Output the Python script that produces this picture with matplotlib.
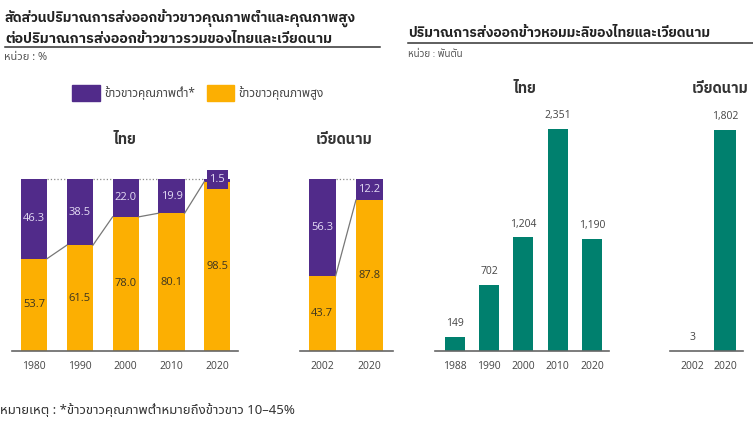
import matplotlib
matplotlib.use("Agg")
import matplotlib.pyplot as plt
from matplotlib.patches import Rectangle

# ---------- data ----------
th_years = ["1980", "1990", "2000", "2010", "2020"]
th_high = [53.7, 61.5, 78.0, 80.1, 98.5]
th_low = [46.3, 38.5, 22.0, 19.9, 1.5]

vn_years = ["2002", "2020"]
vn_high = [43.7, 87.8]
vn_low = [56.3, 12.2]

th_hom_years = ["1988", "1990", "2000", "2010", "2020"]
th_hom = [149, 702, 1204, 2351, 1190]

vn_hom_years = ["2002", "2020"]
vn_hom = [3, 1802]

# ---------- style ----------
THAI = ["Noto Sans Thai", "Open Sans", "DejaVu Sans"]
THAI_B = ["IBM Plex Sans Thai", "Noto Sans Thai", "DejaVu Sans"]
NUM = ["Open Sans", "DejaVu Sans"]
PURPLE = "#512b8a"
ORANGE = "#fcaf02"
TEAL = "#00806e"

W, H = 753, 421
fig = plt.figure(figsize=(W / 100, H / 100), dpi=100)


def px_axes(x0, x1, y_top, y_base):
    # axes from pixel box (origin top-left)
    return fig.add_axes([x0 / W, 1 - y_base / H, (x1 - x0) / W, (y_base - y_top) / H])


def ftext(x, y, s, **kw):
    return fig.text(x / W, 1 - y / H, s, **kw)


def hline(x0, x1, y):
    fig.add_artist(plt.Line2D([x0 / W, x1 / W], [1 - y / H, 1 - y / H],
                              color="#333333", lw=1.1))


def clean(ax, ticks):
    for s in ["top", "right", "left"]:
        ax.spines[s].set_visible(False)
    ax.spines["bottom"].set_color("#666666")
    ax.spines["bottom"].set_linewidth(1.2)
    ax.set_yticks([])
    ax.set_xticks(range(len(ticks)))
    ax.set_xticklabels(ticks, fontsize=7.5, color="#444444", family=NUM)
    ax.tick_params(axis="x", length=0, pad=7)
    ax.patch.set_alpha(0)


def stacked(ax, years, high, low, bw, boxed_last=False):
    x = range(len(years))
    ax.bar(x, high, bw, color=ORANGE, zorder=2)
    ax.bar(x, low, bw, bottom=high, color=PURPLE, zorder=2)
    ax.set_ylim(0, 100)
    # connectors between bar tops
    for i in range(len(years) - 1):
        ax.plot([i + bw / 2, i + 1 - bw / 2], [high[i], high[i + 1]],
                color="#777777", lw=0.9, zorder=3, clip_on=False)
        ax.plot([i + bw / 2, i + 1 - bw / 2], [100, 100],
                color="#888888", lw=0.9, ls=":", zorder=1, clip_on=False)
    for i in x:
        ax.text(i, high[i] / 2, f"{high[i]:.1f}", ha="center", va="center",
                fontsize=8, color="#3d3520", family=NUM, zorder=4)
        if boxed_last and i == len(years) - 1:
            # segment too thin for its label: put the label on a tab over the bar top
            ax.bar(i, 11.5, bw * 0.82, bottom=94, color=PURPLE, zorder=4, clip_on=False)
            ax.text(i, 99.8, f"{low[i]:.1f}", ha="center", va="center",
                    fontsize=8, color="#e4dcf4", family=NUM, zorder=5)
        else:
            ax.text(i, high[i] + low[i] / 2, f"{low[i]:.1f}", ha="center",
                    va="center", fontsize=8, color="#e4dcf4", family=NUM, zorder=4)
    clean(ax, years)


def single(ax, years, vals, bw):
    x = range(len(years))
    ax.bar(x, vals, bw, color=TEAL, zorder=2)
    ax.set_ylim(0, max(vals))
    for i in x:
        ax.text(i, vals[i] + max(vals) * 0.035, f"{vals[i]:,}", ha="center",
                va="bottom", fontsize=7.5, color="#444444", family=NUM)
    clean(ax, years)


# ---------- left: share of low / high quality white rice ----------
ax1 = px_axes(12, 238, 179, 351)
stacked(ax1, th_years, th_high, th_low, 0.57, boxed_last=True)
ax1.set_xlim(-0.48, 4.45)

ax2 = px_axes(300, 393, 179, 351)
stacked(ax2, vn_years, vn_high, vn_low, 0.57)
ax2.set_xlim(-0.47, 1.5)

ftext(125, 140, "ไทย", ha="center", va="center", fontsize=10.5,
      fontweight="bold", family=THAI_B, color="#333333")
ftext(344, 140, "เวียดนาม", ha="center", va="center", fontsize=10.5,
      fontweight="bold", family=THAI_B, color="#333333")

ftext(5, 18, "สัดส่วนปริมาณการส่งออกข้าวขาวคุณภาพต่ำและคุณภาพสูง",
      ha="left", va="center", fontsize=10, fontweight="bold", family=THAI_B, color="#222222")
ftext(5, 39, "ต่อปริมาณการส่งออกข้าวขาวรวมของไทยและเวียดนาม",
      ha="left", va="center", fontsize=10.3, fontweight="bold", family=THAI_B, color="#222222")
hline(5, 380, 47)
ftext(4, 58, "หน่วย : %", ha="left", va="center", fontsize=8,
      family=THAI, color="#555555")

# legend
fig.add_artist(Rectangle((72 / W, 1 - 101 / H), 28 / W, 16 / H,
                         color=PURPLE, transform=fig.transFigure))
ftext(104, 93, "ข้าวขาวคุณภาพต่ำ*", ha="left", va="center", fontsize=8.5,
      family=THAI, color="#444444")
fig.add_artist(Rectangle((207 / W, 1 - 101 / H), 27 / W, 16 / H,
                         color=ORANGE, transform=fig.transFigure))
ftext(238, 93, "ข้าวขาวคุณภาพสูง", ha="left", va="center", fontsize=8.5,
      family=THAI, color="#444444")

ftext(0, 410, "หมายเหตุ : *ข้าวขาวคุณภาพต่ำหมายถึงข้าวขาว 10–45%", ha="left",
      va="center", fontsize=9.5, family=THAI, color="#333333")

# ---------- right: hom mali exports ----------
ax3 = px_axes(435, 609, 129, 351)
single(ax3, th_hom_years, th_hom, 0.58)
ax3.set_xlim(-0.58, 4.5)

ax4 = px_axes(670, 743, 130, 351)
single(ax4, vn_hom_years, vn_hom, 0.66)
ax4.set_xlim(-0.67, 1.55)

ftext(408, 33, "ปริมาณการส่งออกข้าวหอมมะลิของไทยและเวียดนาม", ha="left",
      va="center", fontsize=10, fontweight="bold", family=THAI_B, color="#222222")
hline(408, 753, 43)
ftext(408, 54, "หน่วย : พันตัน", ha="left", va="center", fontsize=7,
      family=THAI, color="#555555")
ftext(525, 89, "ไทย", ha="center", va="center", fontsize=10.5,
      fontweight="bold", family=THAI_B, color="#333333")
ftext(720, 89, "เวียดนาม", ha="center", va="center", fontsize=10.5,
      fontweight="bold", family=THAI_B, color="#333333")

fig.savefig("out.png", dpi=100)
